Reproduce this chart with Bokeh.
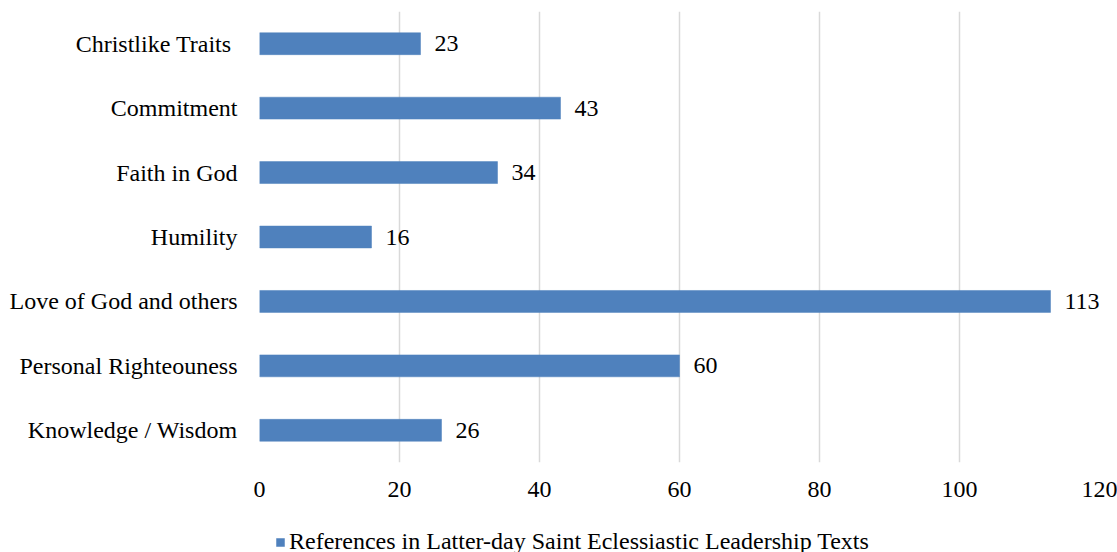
from bokeh.plotting import figure
from bokeh.layouts import column
from bokeh.models import ColumnDataSource, FactorRange, Range1d, Legend, LegendItem, LabelSet, FixedTicker
from bokeh.embed import file_html
from bokeh.resources import INLINE

categories = ["Christlike Traits ", "Commitment", "Faith in God", "Humility",
              "Love of God and others", "Personal Righteouness", "Knowledge / Wisdom"]
values = [23, 43, 34, 16, 113, 60, 26]
series_name = "References in Latter-day Saint Eclessiastic Leadership Texts"
x_ticks = [0, 20, 40, 60, 80, 100, 120]

FONT = "Liberation Serif"
FS = "24px"
BLUE = "#4F81BD"

src = ColumnDataSource(dict(cat=categories, val=values, lab=[str(v) for v in values]))

p = figure(width=1117, height=507, output_backend="svg", toolbar_location=None,
           y_range=FactorRange(factors=list(reversed(categories))),
           x_range=Range1d(0, 120),
           min_border_left=259, min_border_right=18, min_border_top=11, min_border_bottom=45)
p.outline_line_color = None

r = p.hbar(y="cat", right="val", left=0, height=0.34, source=src,
           fill_color=BLUE, line_color=BLUE, line_width=0.5)

labels = LabelSet(x="val", y="cat", text="lab", source=src, x_offset=14,
                  text_align="left", text_baseline="middle",
                  text_font=FONT, text_font_size=FS, text_color="#000000")
p.add_layout(labels)

p.xaxis.ticker = FixedTicker(ticks=x_ticks)
p.xgrid.ticker = FixedTicker(ticks=x_ticks)
p.xgrid.grid_line_color = "#D9D9D9"
p.xgrid.grid_line_width = 1.5
p.ygrid.grid_line_color = None

for ax in (p.xaxis, p.yaxis):
    ax.axis_line_color = None
    ax.major_tick_line_color = None
    ax.minor_tick_line_color = None
    ax.major_tick_out = 0
    ax.major_tick_in = 0
    ax.major_label_text_font = FONT
    ax.major_label_text_font_size = FS
    ax.major_label_text_color = "#000000"
p.xaxis.major_label_standoff = 19
p.yaxis.major_label_standoff = 22

# legend strip below the chart (frames are aligned with the main chart)
lf = figure(width=1117, height=45, output_backend="svg", toolbar_location=None,
            x_range=Range1d(0, 1), y_range=Range1d(0, 1),
            min_border_left=259, min_border_right=18, min_border_top=0, min_border_bottom=0)
lf.outline_line_color = None
lf.axis.visible = False
lf.grid.visible = False
# legend swatch renderer: its single bar lies outside the visible range
swatch = lf.hbar(y=[-5], right=[values[0]], left=0, height=0.34,
                 fill_color=BLUE, line_color=BLUE, line_width=0.5)

legend = Legend(items=[LegendItem(label=series_name, renderers=[swatch])],
                location=(16, -3), orientation="horizontal",
                label_text_font=FONT, label_text_font_size=FS,
                label_text_color="#000000",
                glyph_width=10, glyph_height=10, label_standoff=4,
                padding=0, margin=0, border_line_color=None,
                background_fill_alpha=0)
lf.add_layout(legend, "center")

layout = column(p, lf, spacing=0)
open("out.html", "w").write(file_html(layout, INLINE))
